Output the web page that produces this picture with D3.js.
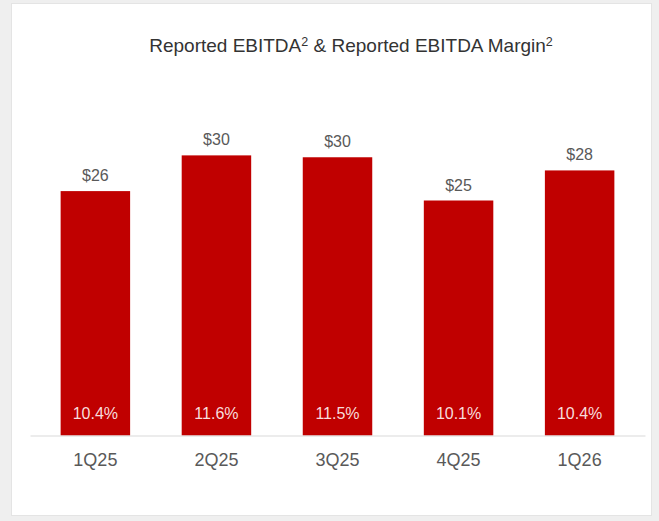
<!DOCTYPE html>
<html>
<head>
<meta charset="utf-8">
<script src="https://cdn.jsdelivr.net/npm/d3@7"></script>
<style>
  html, body { margin: 0; padding: 0; background: #efefef; }
  svg { display: block; }
</style>
</head>
<body>
<svg id="chart" width="659" height="521"></svg>
<script>
// Quarterly reported EBITDA ($M) and reported EBITDA margin (%)
const quarters = ["1Q25", "2Q25", "3Q25", "4Q25", "1Q26"];
const ebitda = [26.0, 29.8, 29.6, 25.0, 28.2];
const margin = [10.4, 11.6, 11.5, 10.1, 10.4];

const W = 659, H = 521;
const svg = d3.select("#chart");
const font = "'Liberation Sans', Arial, sans-serif";

// white card
svg.append("rect")
  .attr("x", 11.5).attr("y", 3.5)
  .attr("width", 640).attr("height", 512)
  .attr("fill", "#ffffff")
  .attr("stroke", "#e4e4e4");

// title with superscript footnote markers
const title = svg.append("text")
  .attr("x", 351).attr("y", 52)
  .attr("text-anchor", "middle")
  .attr("font-family", font)
  .attr("font-size", 19)
  .attr("fill", "#333333");
title.append("tspan").text("Reported EBITDA");
title.append("tspan").attr("font-size", 12.5).attr("dy", -6).text("2");
title.append("tspan").attr("dy", 6).text(" & Reported EBITDA Margin");
title.append("tspan").attr("font-size", 12.5).attr("dy", -6).text("2");

const x = d3.scaleBand()
  .domain(quarters)
  .range([30, 645])
  .paddingInner(0.426)
  .paddingOuter(0.253);

const y = d3.scaleLinear()
  .domain([0, 40])
  .range([435.5, 59.5]);

const rows = quarters.map((q, i) => ({ q, v: ebitda[i], m: margin[i] }));

// bars
svg.append("g").selectAll("rect")
  .data(rows)
  .join("rect")
  .attr("x", d => x(d.q))
  .attr("y", d => y(d.v))
  .attr("width", x.bandwidth())
  .attr("height", d => y(0) - y(d.v))
  .attr("fill", "#c00000");

// EBITDA labels above bars
svg.append("g").selectAll("text")
  .data(rows)
  .join("text")
  .attr("x", d => x(d.q) + x.bandwidth() / 2)
  .attr("y", d => y(d.v) - 10)
  .attr("text-anchor", "middle")
  .attr("font-family", font)
  .attr("font-size", 16)
  .attr("fill", "#595959")
  .text(d => "$" + Math.round(d.v));

// margin labels inside bars
svg.append("g").selectAll("text")
  .data(rows)
  .join("text")
  .attr("x", d => x(d.q) + x.bandwidth() / 2)
  .attr("y", 419)
  .attr("text-anchor", "middle")
  .attr("font-family", font)
  .attr("font-size", 16)
  .attr("fill", "#f7dcdc")
  .text(d => d3.format(".1f")(d.m) + "%");

// category axis
const axis = svg.append("g")
  .attr("transform", `translate(0,${y(0)})`)
  .call(d3.axisBottom(x).tickSize(0).tickPadding(18).tickSizeOuter(0));
axis.select(".domain").attr("stroke", "#d9d9d9").attr("stroke-width", 1.2);
axis.selectAll("text")
  .attr("font-family", font)
  .attr("font-size", 18)
  .attr("fill", "#595959");
</script>
</body>
</html>
